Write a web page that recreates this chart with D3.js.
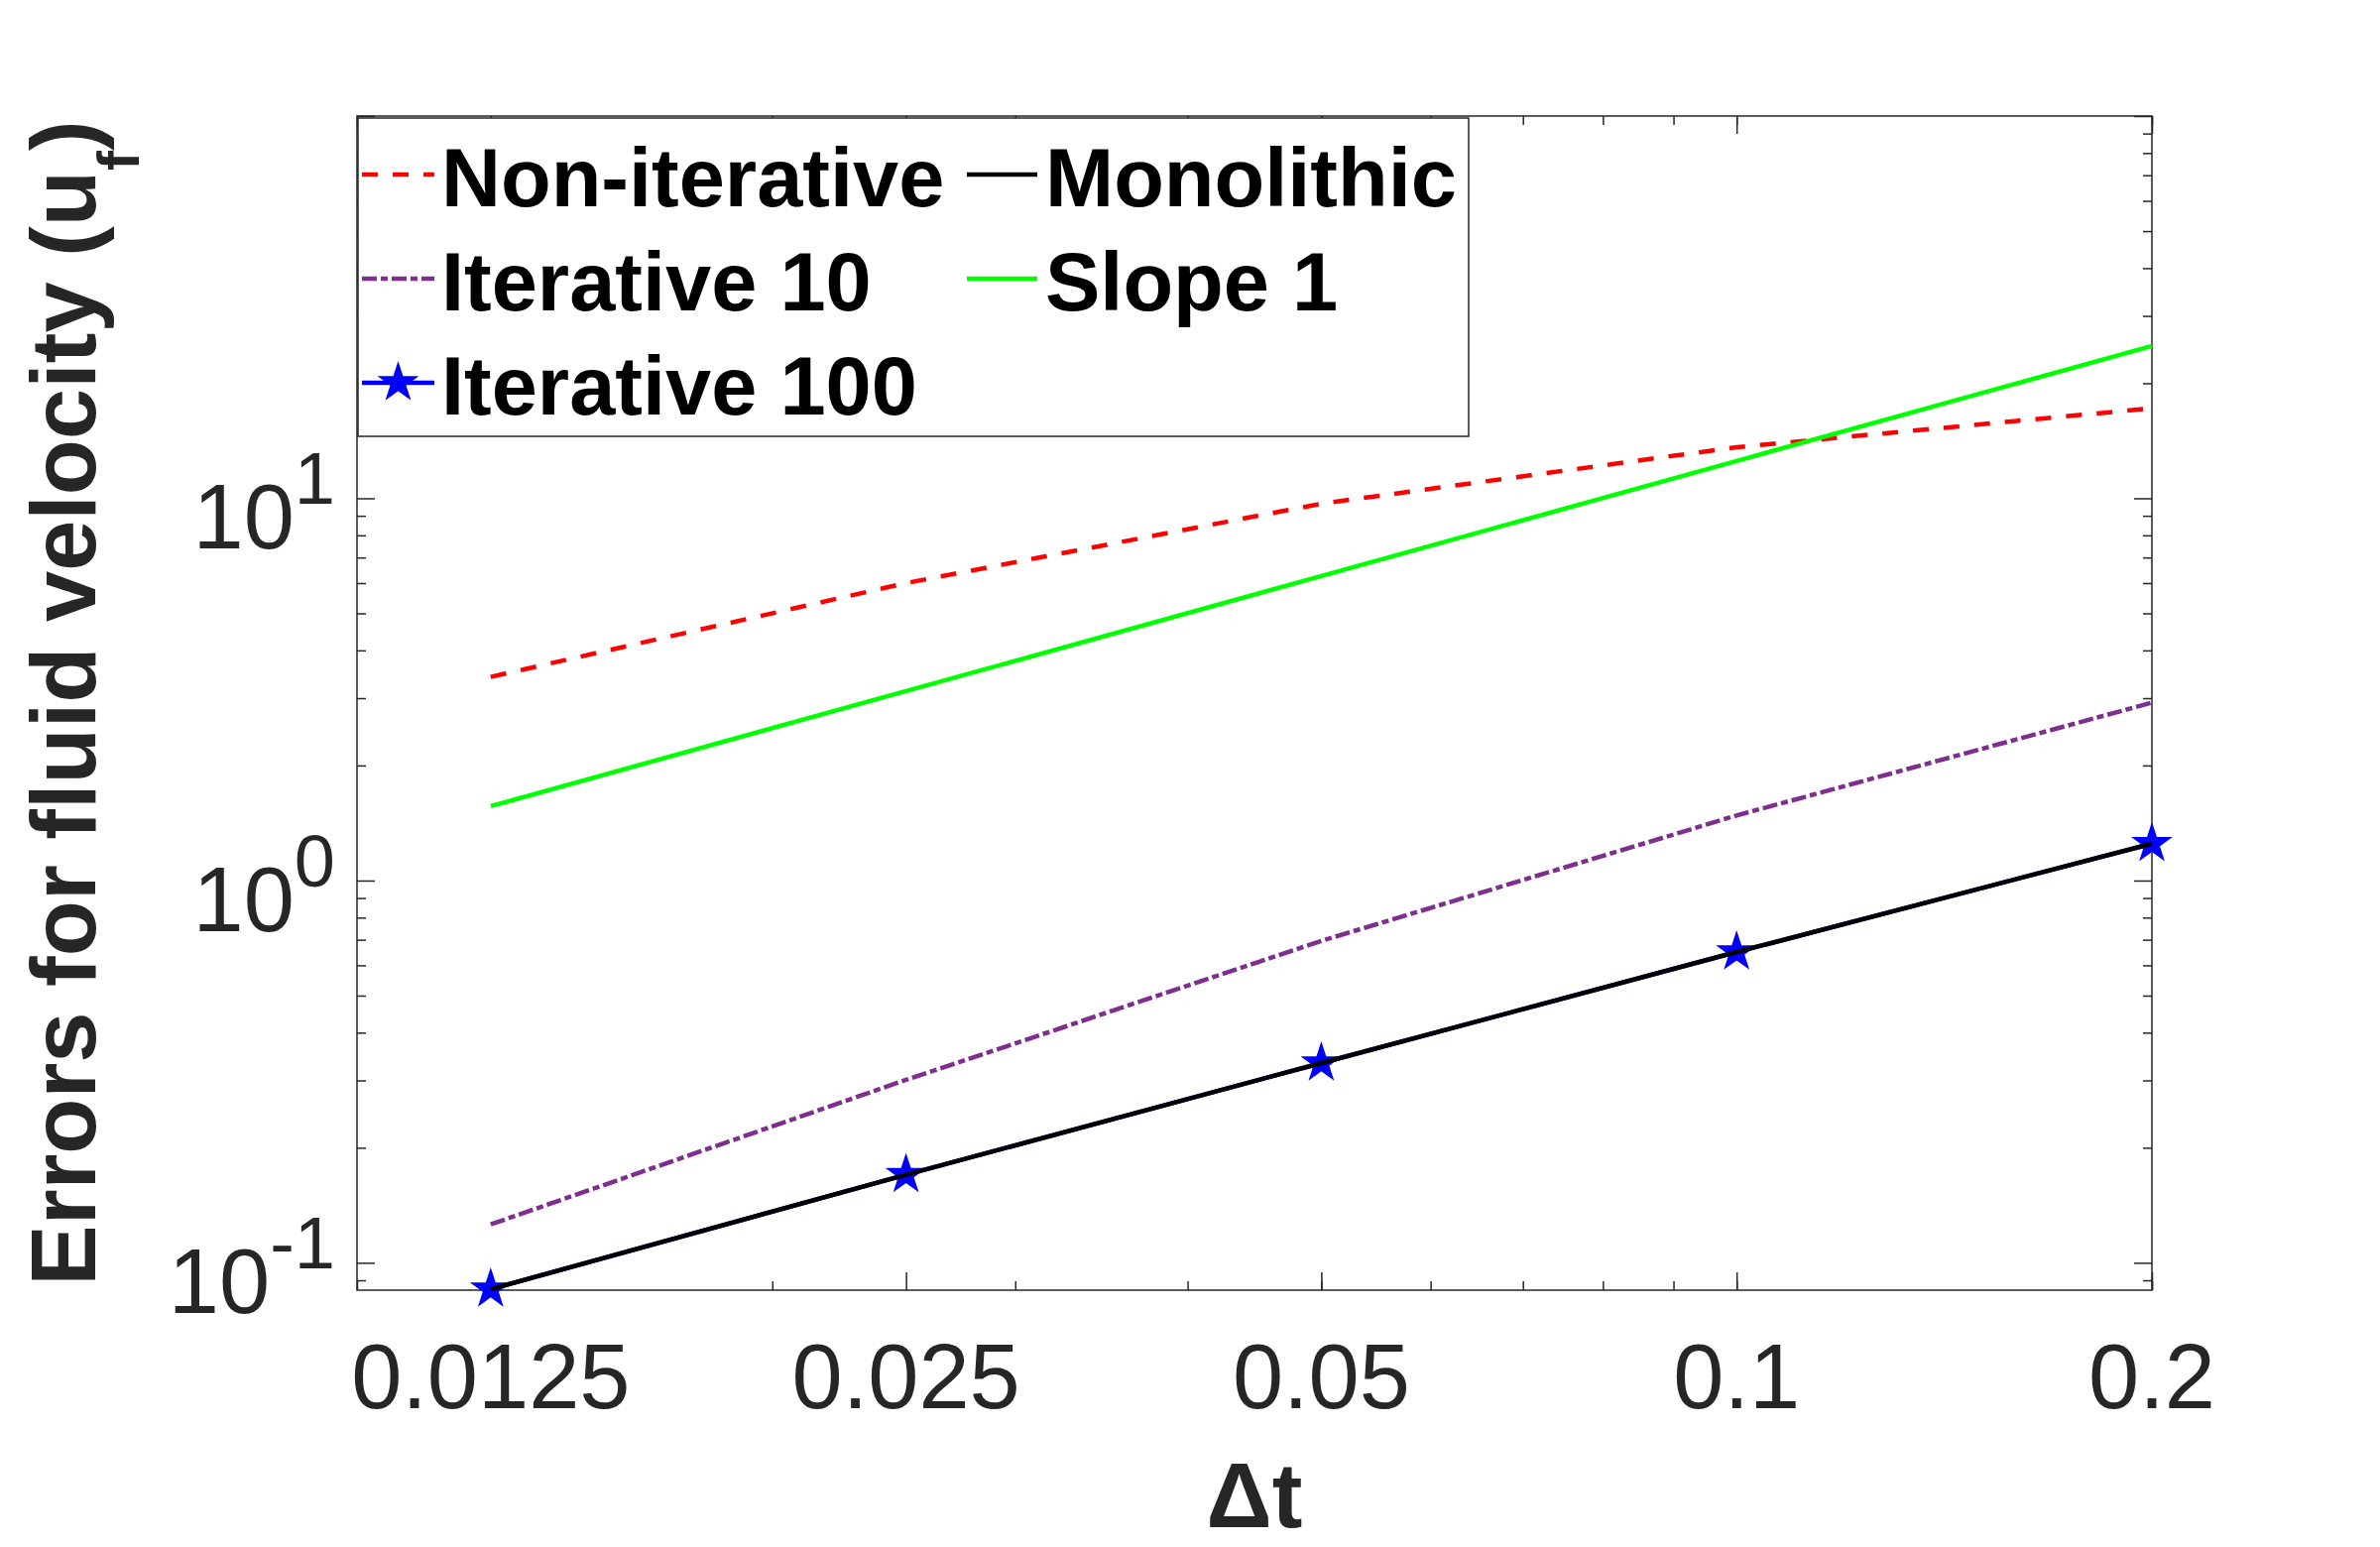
<!DOCTYPE html>
<html>
<head>
<meta charset="utf-8">
<script src="https://cdn.jsdelivr.net/npm/d3@7/dist/d3.min.js"></script>
<style>
  html, body { margin: 0; padding: 0; background: #ffffff; }
  svg { display: block; }
  text { font-family: "Liberation Sans", Arial, sans-serif; }
</style>
</head>
<body>
<script>
// ---------------- data ----------------
const dt = [0.0125, 0.025, 0.05, 0.1, 0.2];
const nonIterative = [3.41, 6.0, 9.68, 13.6, 17.2];
const iterative10  = [0.126, 0.301, 0.695, 1.48, 2.92];
const iterative100 = [0.0853, 0.170, 0.333, 0.650, 1.249];
const monolithic   = [0.0853, 0.170, 0.333, 0.650, 1.249];
const slope1       = [1.565, 3.13, 6.26, 12.52, 25.04];

const xTickValues = [0.0125, 0.025, 0.05, 0.1, 0.2];
const xTickLabels = ["0.0125", "0.025", "0.05", "0.1", "0.2"];
const xMinorTicks = [0.01, 0.02, 0.03, 0.04, 0.05, 0.06, 0.07, 0.08, 0.09, 0.1, 0.2];
const yTickValues = [0.1, 1, 10, 100];
const yTickExponents = ["-1", "0", "1", "2"];
const yMinorTicks = [0.09, 0.2, 0.3, 0.4, 0.5, 0.6, 0.7, 0.8, 0.9,
                     2, 3, 4, 5, 6, 7, 8, 9, 20, 30, 40, 50, 60, 70, 80, 90];

const legendItems = [
  { name: "Non-iterative", col: 0, row: 0 },
  { name: "Iterative 10",  col: 0, row: 1 },
  { name: "Iterative 100", col: 0, row: 2 },
  { name: "Monolithic",    col: 1, row: 0 },
  { name: "Slope 1",       col: 1, row: 1 }
];

// ---------------- layout ----------------
const W = 2400, H = 1560;
const L = 360, R = 2170, T = 117, B = 1301;
const axisColor = "#262626";

const styles = {
  "Non-iterative": { color: "#ff0000", dash: "16,15", width: 4.5 },
  "Iterative 10":  { color: "#7e2f8e", dash: "15,4,7,4", width: 4.5 },
  "Iterative 100": { color: "#0000ff", dash: null, width: 4.5, star: true },
  "Monolithic":    { color: "#000000", dash: null, width: 4.5 },
  "Slope 1":       { color: "#00ff00", dash: null, width: 4.5 }
};
const seriesData = {
  "Non-iterative": nonIterative,
  "Iterative 10": iterative10,
  "Iterative 100": iterative100,
  "Monolithic": monolithic,
  "Slope 1": slope1
};

const svg = d3.select("body").append("svg")
  .attr("width", W).attr("height", H)
  .attr("viewBox", `0 0 ${W} ${H}`);

svg.append("rect").attr("x", 0).attr("y", 0).attr("width", W).attr("height", H).attr("fill", "#fff");

const x = d3.scaleLog().domain([0.01, 0.2]).range([L, R]);
const y = d3.scaleLog().domain([0.0848, 100]).range([B, T]);

// ---------------- axes / ticks ----------------
function styleAxis(g) {
  g.select(".domain").remove();
  g.selectAll(".tick line").attr("stroke", axisColor).attr("stroke-width", 1.5);
  g.selectAll(".tick text").remove();
}
const majorLen = 18, minorLen = 9;
// bottom
svg.append("g").attr("transform", `translate(0,${B})`)
  .call(d3.axisBottom(x).tickValues(xMinorTicks).tickSize(-minorLen).tickFormat("")).call(styleAxis);
svg.append("g").attr("transform", `translate(0,${B})`)
  .call(d3.axisBottom(x).tickValues(xTickValues).tickSize(-majorLen).tickFormat("")).call(styleAxis);
// top
svg.append("g").attr("transform", `translate(0,${T})`)
  .call(d3.axisTop(x).tickValues(xMinorTicks).tickSize(-minorLen).tickFormat("")).call(styleAxis);
svg.append("g").attr("transform", `translate(0,${T})`)
  .call(d3.axisTop(x).tickValues(xTickValues).tickSize(-majorLen).tickFormat("")).call(styleAxis);
// left
svg.append("g").attr("transform", `translate(${L},0)`)
  .call(d3.axisLeft(y).tickValues(yMinorTicks).tickSize(-minorLen).tickFormat("")).call(styleAxis);
svg.append("g").attr("transform", `translate(${L},0)`)
  .call(d3.axisLeft(y).tickValues(yTickValues).tickSize(-majorLen).tickFormat("")).call(styleAxis);
// right
svg.append("g").attr("transform", `translate(${R},0)`)
  .call(d3.axisRight(y).tickValues(yMinorTicks).tickSize(-minorLen).tickFormat("")).call(styleAxis);
svg.append("g").attr("transform", `translate(${R},0)`)
  .call(d3.axisRight(y).tickValues(yTickValues).tickSize(-majorLen).tickFormat("")).call(styleAxis);

// box
svg.append("rect").attr("x", L).attr("y", T).attr("width", R - L).attr("height", B - T)
  .attr("fill", "none").attr("stroke", axisColor).attr("stroke-width", 1.5);

// x tick labels
svg.append("g").selectAll("text").data(xTickValues).join("text")
  .attr("x", d => x(d)).attr("y", 1420)
  .attr("text-anchor", "middle")
  .attr("font-size", 92).attr("fill", axisColor)
  .text((d, i) => xTickLabels[i]);

// y tick labels (10^k)
const yLab = svg.append("g").selectAll("text")
  .data(yTickValues.filter(v => v <= 10)).join("text")
  .attr("x", 338).attr("y", d => y(d) + 51)
  .attr("text-anchor", "end")
  .attr("font-size", 92).attr("fill", axisColor);
yLab.append("tspan").text("10");
yLab.append("tspan").attr("dy", -45).attr("font-size", 74)
  .text(d => yTickExponents[yTickValues.indexOf(d)]);

// axis labels
svg.append("text").attr("x", (L + R) / 2).attr("y", 1540)
  .attr("text-anchor", "middle").attr("font-size", 92).attr("font-weight", "bold")
  .attr("fill", axisColor).text("\u0394t");

const yl = svg.append("text")
  .attr("transform", `translate(96,${(T + B) / 2}) rotate(-90)`)
  .attr("text-anchor", "middle").attr("font-size", 92).attr("font-weight", "bold")
  .attr("fill", axisColor);
yl.append("tspan").text("Errors for fluid velocity (u");
yl.append("tspan").attr("dy", 44).attr("font-size", 60).text("f");
yl.append("tspan").attr("dy", -44).text(")");

// ---------------- series ----------------
const line = d3.line().x((d, i) => x(dt[i])).y(d => y(d));
const drawOrder = ["Non-iterative", "Iterative 10", "Iterative 100", "Monolithic", "Slope 1"];
const star = d3.symbol().type(d3.symbolStar).size(430);

drawOrder.forEach(name => {
  const s = styles[name];
  const vals = seriesData[name];
  svg.append("path").datum(vals)
    .attr("d", line)
    .attr("fill", "none")
    .attr("stroke", s.color)
    .attr("stroke-width", s.width)
    .attr("stroke-dasharray", s.dash)
    .attr("stroke-linejoin", "round");
  if (s.star) {
    svg.append("g").selectAll("path").data(vals).join("path")
      .attr("d", star)
      .attr("transform", (d, i) => `translate(${x(dt[i])},${y(d)})`)
      .attr("fill", s.color).attr("stroke", s.color).attr("stroke-width", 1.5);
  }
});

// ---------------- legend ----------------
const lg = svg.append("g");
lg.append("rect").attr("x", 361).attr("y", 119).attr("width", 1120).attr("height", 321)
  .attr("fill", "#fff").attr("stroke", axisColor).attr("stroke-width", 1.5);
const colLineX = [[365, 438], [975, 1046]];
const colTextX = [445, 1054];
const rowY = [176, 281, 386];

legendItems.forEach(it => {
  const s = styles[it.name];
  const [x0, x1] = colLineX[it.col];
  const cy = rowY[it.row];
  lg.append("line").attr("x1", x0).attr("x2", x1).attr("y1", cy).attr("y2", cy)
    .attr("stroke", s.color).attr("stroke-width", s.width)
    .attr("stroke-dasharray", s.dash);
  if (s.star) {
    lg.append("path").attr("d", star)
      .attr("transform", `translate(${(x0 + x1) / 2},${cy})`)
      .attr("fill", s.color).attr("stroke", s.color).attr("stroke-width", 1.5);
  }
  lg.append("text").attr("x", colTextX[it.col]).attr("y", cy + 32)
    .attr("font-size", 83).attr("font-weight", "bold").attr("fill", "#000")
    .text(it.name);
});
</script>
</body>
</html>
